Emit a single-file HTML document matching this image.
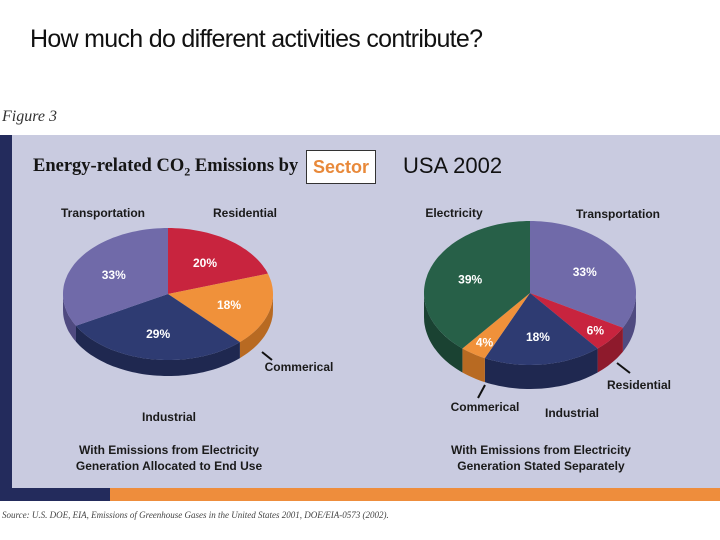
<!DOCTYPE html>
<html><head><meta charset="utf-8">
<style>
body{margin:0;width:720px;height:540px;background:#fff;overflow:hidden;position:relative;font-family:"Liberation Sans",sans-serif}
.a{position:absolute;white-space:nowrap}
</style></head>
<body>
<div class="a" style="left:30px;top:25px;font-size:25px;letter-spacing:-0.7px;color:#111">How much do different activities contribute?</div>
<div class="a" style="left:2px;top:108px;font-family:'Liberation Serif',serif;font-style:italic;font-size:16px;color:#333">Figure 3</div>
<div class="a" style="left:0;top:135px;width:720px;height:365px;background:#c9cbe0"></div>
<div class="a" style="left:0;top:135px;width:12px;height:365px;background:#232b5c"></div>
<div class="a" style="left:0;top:488px;width:110px;height:13px;background:#232b5c"></div>
<div class="a" style="left:110px;top:488px;width:610px;height:13px;background:#ee8d3c"></div>
<div class="a" style="left:33px;top:156px;font-family:'Liberation Serif',serif;font-weight:bold;font-size:18.5px;color:#151515">Energy-related CO<sub style="font-size:12px">2</sub> Emissions by</div>
<div class="a" style="left:306px;top:150px;width:70px;height:34px;background:#fff;border:1px solid #333;box-sizing:border-box;color:#e8893a;font-weight:bold;font-size:18px;text-align:center;line-height:32px">Sector</div>
<div class="a" style="left:403px;top:153px;font-size:22px;color:#111">USA 2002</div>
<svg class="a" style="left:0;top:0" width="720" height="540" id="svg"></svg>
<div class="a" style="left:69px;top:442px;width:200px;text-align:center;font-weight:bold;font-size:12px;line-height:16px;color:#1a1a1a">With Emissions from Electricity<br>Generation Allocated to End Use</div>
<div class="a" style="left:441px;top:442px;width:200px;text-align:center;font-weight:bold;font-size:12px;line-height:16px;color:#1a1a1a">With Emissions from Electricity<br>Generation Stated Separately</div>
<div class="a" style="left:2px;top:510px;font-family:'Liberation Serif',serif;font-style:italic;font-size:9px;color:#444">Source: U.S. DOE, EIA, Emissions of Greenhouse Gases in the United States 2001, DOE/EIA-0573 (2002).</div>
<script>
const leftCats=["Residential","Commercial","Industrial","Transportation"];
const leftVals=[20,18,29,33];
const rightCats=["Transportation","Residential","Industrial","Commercial","Electricity"];
const rightVals=[33,6,18,4,39];
const colors={Residential:["#c8243e","#8e1a2c"],Commercial:["#f0913a","#b86a22"],Industrial:["#2e3b72","#1f2850"],Transportation:["#706aa9","#4f4a80"],Electricity:["#276048","#1a4232"]};
const svg=document.getElementById('svg');
const NS='http://www.w3.org/2000/svg';
function pt(p,a,dy){const r=a*Math.PI/180;return [p.cx+p.rx*Math.sin(r),p.cy-p.ry*Math.cos(r)+(dy||0)];}
function arc(p,a,b,dy){let s=[];const n=Math.max(2,Math.ceil(Math.abs(b-a)/2));for(let i=0;i<=n;i++){s.push(pt(p,a+(b-a)*i/n,dy));}return s;}
function draw(cats,vals,p,name){
  const tot=vals.reduce((x,y)=>x+y,0);
  let angs=[];let acc=0;
  vals.forEach(v=>{angs.push([acc/tot*360,(acc+v)/tot*360]);acc+=v;});
  cats.forEach((c,i)=>{
    let a=Math.max(angs[i][0],90),b=Math.min(angs[i][1],270);
    if(b<=a)return;
    const top=arc(p,a,b,0),bot=arc(p,b,a,p.d);
    const el=document.createElementNS(NS,'path');
    el.setAttribute('d','M'+top.concat(bot).map(q=>q[0].toFixed(1)+','+q[1].toFixed(1)).join('L')+'Z');
    el.setAttribute('fill',colors[c][1]);
    
    
    svg.appendChild(el);
  });
  cats.forEach((c,i)=>{
    const pts=[[p.cx,p.cy]].concat(arc(p,angs[i][0],angs[i][1],0));
    const el=document.createElementNS(NS,'path');
    el.setAttribute('d','M'+pts.map(q=>q[0].toFixed(1)+','+q[1].toFixed(1)).join('L')+'Z');
    el.setAttribute('fill',colors[c][0]);
    
    
    svg.appendChild(el);
    const mid=(angs[i][0]+angs[i][1])/2;
    const f=vals[i]<8?0.8:0.6;
    const r=mid*Math.PI/180;
    const t=document.createElementNS(NS,'text');
    t.setAttribute('x',p.cx+p.rx*f*Math.sin(r));
    t.setAttribute('y',p.cy-p.ry*f*Math.cos(r)+5);
    t.setAttribute('text-anchor','middle');
    t.setAttribute('fill','#fff');
    t.setAttribute('font-weight','bold');
    t.setAttribute('font-size','12');
    t.setAttribute('font-family','Liberation Sans, sans-serif');
    t.textContent=vals[i]+'%';
    
    
    svg.appendChild(t);
  });
}
draw(leftCats,leftVals,{cx:168,cy:294,rx:105,ry:66,d:16},'left-pie');
draw(rightCats,rightVals,{cx:530,cy:293,rx:106,ry:72,d:24},'right-pie');
function label(txt,x,y,n){const t=document.createElementNS(NS,'text');t.setAttribute('x',x);t.setAttribute('y',y);t.setAttribute('text-anchor','middle');t.setAttribute('font-weight','bold');t.setAttribute('font-size','12');t.setAttribute('fill','#1a1a1a');t.setAttribute('font-family','Liberation Sans, sans-serif');t.textContent=txt;


svg.appendChild(t);}
function line(x1,y1,x2,y2,n){const l=document.createElementNS(NS,'line');l.setAttribute('x1',x1);l.setAttribute('y1',y1);l.setAttribute('x2',x2);l.setAttribute('y2',y2);l.setAttribute('stroke','#111');l.setAttribute('stroke-width','2');


svg.appendChild(l);}
label('Transportation',103,217,'left-label-transportation');
label('Residential',245,217,'left-label-residential');
label('Commerical',299,371,'left-label-commercial');
label('Industrial',169,421,'left-label-industrial');
line(262,352,272,360,'left-leader-commercial');
label('Electricity',454,217,'right-label-electricity');
label('Transportation',618,218,'right-label-transportation');
label('Residential',639,389,'right-label-residential');
label('Commerical',485,411,'right-label-commercial');
label('Industrial',572,417,'right-label-industrial');
line(617,363,630,373,'right-leader-residential');
line(485,385,478,398,'right-leader-commercial');
</script>
</body></html>
